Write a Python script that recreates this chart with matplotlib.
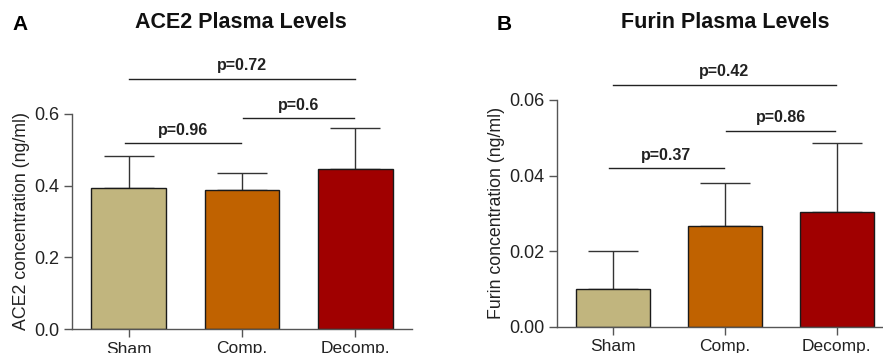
import matplotlib
matplotlib.use("Agg")
import matplotlib.pyplot as plt

plt.rcParams['font.family'] = ['Liberation Sans', 'DejaVu Sans']

groups = ["Sham", "Comp.", "Decomp."]
colors = ["#C1B57E", "#C06200", "#A00000"]

ace2_mean = [0.393, 0.389, 0.447]
ace2_err = [0.091, 0.047, 0.114]
ace2_ticks = [0.0, 0.2, 0.4, 0.6]
ace2_tick_labels = ["0.0", "0.2", "0.4", "0.6"]
ace2_pairs = [(0, 1), (1, 2), (0, 2)]
ace2_pvals = ["p=0.96", "p=0.6", "p=0.72"]
ace2_bracket_y = [0.518, 0.589, 0.699]

furin_mean = [0.0099, 0.0267, 0.0304]
furin_err = [0.0101, 0.0114, 0.0183]
furin_ticks = [0.0, 0.02, 0.04, 0.06]
furin_tick_labels = ["0.00", "0.02", "0.04", "0.06"]
furin_pairs = [(0, 1), (1, 2), (0, 2)]
furin_pvals = ["p=0.37", "p=0.86", "p=0.42"]
furin_bracket_y = [0.0419, 0.0519, 0.0641]

W, H = 883, 353
fig = plt.figure(figsize=(W / 100, H / 100), dpi=100)


def panel(rect, means, errs, ticks, tlabels, ylim, ylabel, title, letter,
          letter_xy, title_x, pairs, pvals, by):
    ax = fig.add_axes(rect)
    x = list(range(len(groups)))
    ax.bar(x, means, width=0.66, color=colors, edgecolor="#1a1a1a",
           linewidth=1.0, zorder=2)
    ax.errorbar(x, [m + e / 2 for m, e in zip(means, errs)],
                yerr=[[e / 2 for e in errs], [e / 2 for e in errs]],
                fmt="none", ecolor="#333333", elinewidth=1.0, capsize=18,
                capthick=1.0, zorder=1)
    ax.set_xlim(-0.5, 2.5)
    ax.set_ylim(*ylim)
    ax.set_yticks(ticks)
    ax.set_yticklabels(tlabels)
    ax.set_xticks(x)
    ax.set_xticklabels(groups)
    for s in ["top", "right"]:
        ax.spines[s].set_visible(False)
    for s in ["left", "bottom"]:
        ax.spines[s].set_color("#555555")
        ax.spines[s].set_linewidth(1.0)
    ax.tick_params(axis="both", length=6, width=1.0, color="#555555", pad=3)
    ax.tick_params(axis="y", labelsize=13, labelcolor="#222222")
    ax.tick_params(axis="x", labelsize=12.5, labelcolor="#222222")
    ax.set_ylabel(ylabel, fontsize=12.8, labelpad=3, color="#222222")
    span = ylim[1] - ylim[0]
    for (a, b), p, yv in zip(pairs, pvals, by):
        x0 = a - 0.03 if a == 0 else a + 0.01
        x1 = b - 0.01
        if (a, b) == (0, 2):
            x0 = a
            x1 = b - 0.005
        ax.plot([x0, x1], [yv, yv], color="#222222", lw=1.0, clip_on=False)
        ax.text((x0 + x1) / 2, yv + span * 0.025, p, ha="center", va="bottom",
                fontsize=11.5, fontweight="bold", color="#222222")
    fig.text(title_x / W, 1 - 22 / H, title, ha="center", va="center",
             fontsize=15.5, fontweight="bold", color="#111111")
    fig.text(letter_xy[0] / W, 1 - letter_xy[1] / H, letter, ha="left",
             va="center", fontsize=15, fontweight="bold")
    return ax


panel([72 / W, 1 - 329 / H, (412 - 72) / W, (329 - 114) / H],
      ace2_mean, ace2_err, ace2_ticks, ace2_tick_labels, (0, 0.6),
      "ACE2 concentration (ng/ml)", "ACE2 Plasma Levels", "A", (12, 25),
      241, ace2_pairs, ace2_pvals, ace2_bracket_y)

panel([556.7 / W, 1 - 326.7 / H, (892.6 - 556.7) / W, (326.7 - 100) / H],
      furin_mean, furin_err, furin_ticks, furin_tick_labels, (0, 0.06),
      "Furin concentration (ng/ml)", "Furin Plasma Levels", "B", (497, 25),
      725, furin_pairs, furin_pvals, furin_bracket_y)

fig.savefig("out.png", dpi=100)
